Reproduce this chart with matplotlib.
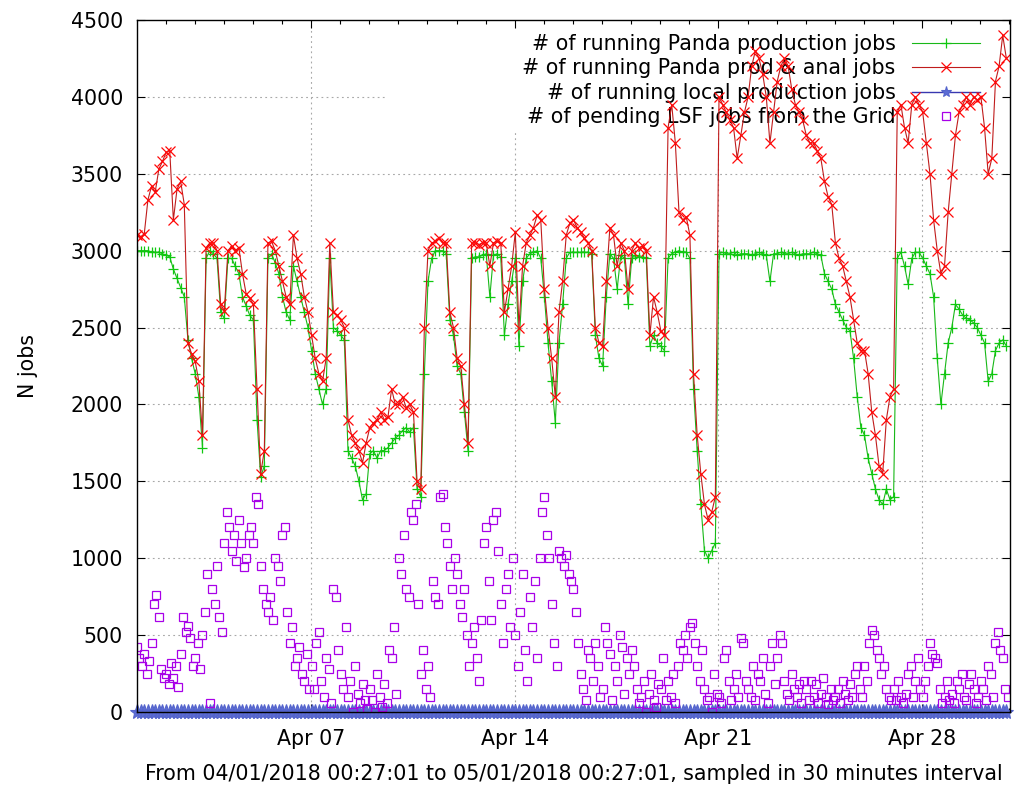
import datetime
import pandas as pd
import matplotlib
matplotlib.use('Agg')
from matplotlib import pyplot as plt
import matplotlib.dates as mdates

start = datetime.datetime(2018, 4, 1, 0, 27, 1)
end = datetime.datetime(2018, 5, 1, 0, 27, 1)

# one value every 3 hours (8 per day)
panda_prod = [
    3000, 3000, 3000, 3000, 2990, 2990, 2990, 2980,
    2970, 2960, 2880, 2820, 2760, 2700, 2420, 2300,
    2200, 2050, 1720, 2950, 3000, 2980, 2950, 2600,
    2560, 2950, 2950, 2900, 2850, 2700, 2640, 2580,
    2550, 1900, 1530, 1600, 2950, 2980, 2920, 2850,
    2700, 2600, 2550, 2900, 2800, 2700, 2600, 2500,
    2350, 2200, 2100, 2000, 2100, 2950, 2500, 2480,
    2450, 2420, 1700, 1650, 1600, 1500, 1380, 1420,
    1680, 1700, 1650, 1700, 1700, 1720, 1750, 1780,
    1800, 1830, 1850, 1820, 1850, 1450, 1400, 2200,
    2800, 2950, 3000, 3000, 3000, 2980, 2550, 2450,
    2250, 2200, 1950, 1700, 2950, 2960, 2960, 2970,
    2980, 2700, 2970, 2980, 2960, 2450, 2650, 2800,
    2950, 2380, 2800, 2950, 2980, 2990, 3000, 2950,
    2700, 2400, 2150, 1880, 2400, 2650, 2950, 2990,
    2990, 2990, 2990, 2990, 2990, 2980, 2450, 2300,
    2250, 2700, 2980, 2950, 2750, 2970, 2950, 2650,
    2950, 2970, 2960, 2960, 2950, 2380, 2450, 2400,
    2380, 2350, 2950, 2980, 2990, 3000, 2990, 2990,
    2950, 2100, 1700, 1350, 1050, 1000, 1050, 1100,
    2980, 2990, 2980, 2980, 2990, 2970, 2980, 2980,
    2980, 2970, 2980, 2990, 2980, 2970, 2800, 2980,
    2980, 2990, 2980, 2980, 2990, 2980, 2970, 2980,
    2980, 2980, 2990, 2980, 2970, 2850, 2800, 2750,
    2650, 2600, 2550, 2500, 2480, 2300, 2050, 1850,
    1800, 1650, 1550, 1450, 1380, 1350, 1450, 1380,
    1400, 2950, 2990, 2900, 2780, 2950, 2990, 2990,
    2950, 2900, 2850, 2700, 2300, 2000, 2200, 2400,
    2500, 2650, 2620, 2580, 2560, 2550, 2530, 2500,
    2450, 2400, 2150, 2200, 2350, 2400, 2420, 2380,
]

panda_all = [
    3100, 3090, 3110, 3330, 3420, 3380, 3530, 3580,
    3640, 3650, 3200, 3400, 3450, 3300, 2400, 2330,
    2280, 2150, 1800, 3020, 3050, 3050, 3000, 2650,
    2610, 3000, 3030, 3000, 3020, 2850, 2720, 2690,
    2650, 2100, 1550, 1700, 3050, 3060, 3000, 2900,
    2800, 2700, 2650, 3100, 2950, 2850, 2700, 2600,
    2450, 2300, 2200, 2150, 2300, 3050, 2600, 2580,
    2550, 2500, 1900, 1800, 1750, 1700, 1620, 1750,
    1850, 1880, 1900, 1950, 1900, 1920, 2100, 2000,
    2000, 2050, 1980, 2000, 1950, 1500, 1450, 2500,
    3000, 3050, 3060, 3080, 3050, 3050, 2600, 2500,
    2300, 2250, 2000, 1750, 3050, 3050, 3040, 3050,
    3050, 2900, 3050, 3060, 3050, 2600, 2750, 2900,
    3120, 2500, 2900, 3050, 3100, 3150, 3230, 3200,
    2750, 2500, 2300, 2050, 2600, 2800, 3100, 3180,
    3200, 3150, 3120, 3080, 3050, 3000, 2500, 2400,
    2380, 2800, 3150, 3100, 2900, 3050, 3000, 2750,
    3000, 3050, 3020, 3030, 3000, 2450, 2700, 2600,
    2480, 2450, 3800, 3950, 3700, 3250, 3200, 3220,
    3100, 2200, 1800, 1550, 1350, 1250, 1300, 1400,
    4000, 3950, 3900, 3850, 3800, 3600, 3750, 3900,
    4000, 4200, 4300, 4250, 4150, 4000, 3700, 3900,
    4100, 4200, 4250, 4200, 4050, 3950, 3900, 3850,
    3750, 3700, 3700, 3650, 3600, 3450, 3350, 3300,
    3050, 2950, 2900, 2800, 2700, 2550, 2400, 2350,
    2350, 2200, 1950, 1800, 1600, 1550, 1900, 2050,
    2100, 3900, 3950, 3800, 3700, 3950, 4000, 3950,
    3900, 3700, 3500, 3200, 3000, 2850, 2900, 3250,
    3500, 3750, 3900, 3950, 4000, 3950, 4000, 3980,
    4000, 3800, 3500, 3600, 4100, 4200, 4400, 4250,
]

# local production stays at 0 the whole month
local_prod = [
    0, 0, 0, 0, 0, 0, 0, 0, 0, 0, 0, 0, 0, 0, 0, 0, 0, 0, 0, 0, 0, 0, 0, 0,
    0, 0, 0, 0, 0, 0, 0, 0, 0, 0, 0, 0, 0, 0, 0, 0, 0, 0, 0, 0, 0, 0, 0, 0,
    0, 0, 0, 0, 0, 0, 0, 0, 0, 0, 0, 0, 0, 0, 0, 0, 0, 0, 0, 0, 0, 0, 0, 0,
    0, 0, 0, 0, 0, 0, 0, 0, 0, 0, 0, 0, 0, 0, 0, 0, 0, 0, 0, 0, 0, 0, 0, 0,
    0, 0, 0, 0, 0, 0, 0, 0, 0, 0, 0, 0, 0, 0, 0, 0, 0, 0, 0, 0, 0, 0, 0, 0,
    0, 0, 0, 0, 0, 0, 0, 0, 0, 0, 0, 0, 0, 0, 0, 0, 0, 0, 0, 0, 0, 0, 0, 0,
    0, 0, 0, 0, 0, 0, 0, 0, 0, 0, 0, 0, 0, 0, 0, 0, 0, 0, 0, 0, 0, 0, 0, 0,
    0, 0, 0, 0, 0, 0, 0, 0, 0, 0, 0, 0, 0, 0, 0, 0, 0, 0, 0, 0, 0, 0, 0, 0,
    0, 0, 0, 0, 0, 0, 0, 0, 0, 0, 0, 0, 0, 0, 0, 0, 0, 0, 0, 0, 0, 0, 0, 0,
    0, 0, 0, 0, 0, 0, 0, 0, 0, 0, 0, 0, 0, 0, 0, 0, 0, 0, 0, 0, 0, 0, 0, 0,
]

# pending LSF jobs, one value every 2 hours (12 per day)
lsf_pending = [
    420, 350, 300, 380, 250, 330, 450, 700, 760, 620, 280, 220,
    250, 180, 320, 220, 300, 160, 380, 620, 520, 560, 480, 300,
    350, 450, 280, 500, 650, 900, 60, 800, 700, 950, 620, 520,
    1100, 1300, 1200, 1050, 1150, 980, 1250, 1100, 940, 1000, 1150, 1200,
    1100, 1400, 1350, 950, 800, 700, 650, 750, 600, 1000, 950, 850,
    1150, 1200, 650, 450, 550, 300, 350, 420, 250, 200, 380, 150,
    300, 150, 450, 520, 200, 100, 350, 280, 60, 800, 750, 400,
    250, 150, 550, 100, 200, 0, 300, 120, 60, 180, 80, 20,
    150, 80, 0, 250, 100, 30, 180, 60, 400, 350, 550, 120,
    1000, 900, 1150, 800, 750, 1300, 1250, 1350, 700, 250, 400, 150,
    300, 100, 850, 750, 700, 1400, 1420, 1200, 1100, 950, 800, 1000,
    900, 700, 620, 800, 500, 300, 450, 550, 350, 200, 600, 1100,
    1200, 850, 600, 1250, 1300, 1050, 700, 450, 800, 900, 550, 1000,
    500, 300, 650, 900, 400, 200, 750, 550, 850, 350, 1000, 1300,
    1400, 1150, 1000, 700, 450, 300, 1050, 1000, 950, 1020, 900, 850,
    800, 650, 450, 250, 150, 80, 400, 350, 200, 450, 300, 100,
    150, 550, 450, 380, 80, 300, 200, 500, 420, 120, 350, 250,
    400, 300, 150, 60, 100, 200, 0, 120, 250, 80, 30, 180,
    150, 350, 80, 200, 100, 250, 60, 300, 450, 400, 500, 350,
    550, 580, 450, 300, 200, 400, 150, 80, 100, 0, 250, 120,
    100, 60, 350, 400, 200, 80, 150, 250, 100, 480, 450, 200,
    150, 100, 300, 80, 250, 200, 350, 120, 60, 300, 450, 180,
    350, 500, 450, 200, 120, 80, 250, 150, 100, 180, 60, 200,
    150, 80, 200, 100, 180, 60, 120, 220, 100, 50, 150, 80,
    100, 150, 60, 200, 120, 80, 180, 100, 250, 300, 150, 100,
    300, 200, 450, 530, 500, 400, 350, 250, 300, 150, 100, 80,
    150, 80, 200, 100, 60, 120, 250, 300, 100, 200, 350, 150,
    100, 200, 300, 450, 380, 350, 320, 150, 60, 100, 200, 80,
    120, 60, 200, 150, 250, 100, 80, 180, 250, 150, 60, 100,
    200, 150, 80, 300, 250, 100, 450, 520, 400, 350, 150, 100,
]

labels = ['# of running Panda production jobs',
          '# of running Panda prod & anal jobs',
          '# of running local production jobs',
          '# of pending LSF jobs from the Grid']
y_ticks = list(range(0, 4501, 500))
x_label = 'From 04/01/2018 00:27:01 to 05/01/2018 00:27:01, sampled in 30 minutes interval'
y_label = 'N jobs'

# part of the plot where gnuplot leaves out the grid (behind the key)
key_x0 = 0.2864
key_y0 = 0.841

plt.rcParams['font.family'] = ['DejaVu Sans']
plt.rcParams['font.size'] = 14.8


def make_graph():
    times3 = pd.date_range(start, periods=len(panda_prod), freq='3h')
    times2 = pd.date_range(start, periods=len(lsf_pending), freq='2h')

    fig = plt.figure(figsize=(10.23, 7.86), dpi=100)
    ax = fig.add_axes([137 / 1023, 74 / 786, 873 / 1023, 692 / 786])

    ax.plot(times3, panda_prod, color='#18b818', lw=0.8, marker='+', ms=7.5,
            mew=0.9, mec='#10c810', label=labels[0], zorder=2)
    ax.plot(times3, panda_all, color='#c01c1c', lw=0.8, marker='x', ms=6.8,
            mew=0.9, mec='#ff0808', label=labels[1], zorder=3)
    ax.plot(times3, local_prod, color='#3838b0', lw=1.0, marker='*', ms=11,
            mew=0.8, mfc='#5c6cd4', mec='#5464cc', label=labels[2], zorder=4,
            clip_on=False)
    ax.plot(times2, lsf_pending, ls='none', marker='s', ms=6.2, mew=0.9,
            mfc='none', mec='#a800e8', label=labels[3], zorder=5)

    ax.set_xlim(start, end)
    ax.set_ylim(0, 4500)
    ax.set_yticks(y_ticks)
    ax.xaxis.set_major_locator(mdates.DayLocator(bymonthday=[7, 14, 21, 28]))
    ax.xaxis.set_minor_locator(mdates.DayLocator())
    ax.xaxis.set_major_formatter(mdates.DateFormatter('%b %d'))
    ax.tick_params(which='both', direction='in', top=True, right=True, width=0.8)
    ax.tick_params(which='major', length=6, pad=10)
    ax.tick_params(axis='x', which='major', pad=12)
    ax.tick_params(which='minor', length=3)
    for s in ax.spines.values():
        s.set_linewidth(1.0)
        s.set_zorder(6)

    grid_kw = dict(color='#a8a8a8', lw=0.8, ls=(0, (1.6, 3)), zorder=0.5)
    for yv in y_ticks[1:-1]:
        xmax = key_x0 if yv / 4500 > key_y0 else 1.0
        ax.axhline(yv, xmin=0, xmax=xmax, **grid_kw)
    x0, x1 = ax.get_xlim()
    for xv in ax.get_xticks():
        frac = (xv - x0) / (x1 - x0)
        ymax = key_y0 if frac > key_x0 else 1.0
        ax.axvline(xv, ymin=0, ymax=ymax, **grid_kw)

    leg = ax.legend(loc='upper right', bbox_to_anchor=(0.9656, 0.980),
                    frameon=False, markerfirst=False, numpoints=1,
                    handlelength=3.3, handletextpad=0.8, labelspacing=0.22,
                    borderpad=0, borderaxespad=0)
    leg.set_zorder(1.5)
    leg.legend_handles[2].set_markersize(8)

    ax.set_ylabel(y_label)
    ax.yaxis.set_label_coords(-0.113, 0.5)
    ax.set_xlabel(x_label)
    ax.xaxis.set_label_coords(0.5, -0.075)

    fig.savefig('out.png', dpi=100)


if __name__ == '__main__':
    make_graph()
